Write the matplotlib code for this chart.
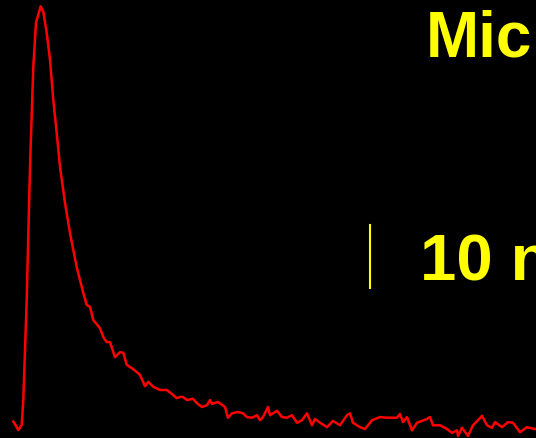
import matplotlib
matplotlib.use("Agg")
from matplotlib import pyplot as plt

# evoked current trace, time in ms, current in nA
time_ms = [1.33, 1.6, 1.83, 2.17, 2.33, 2.67, 3.0, 3.33, 3.6, 4.07, 4.33, 4.67,
           5.0, 5.33, 5.67, 6.0, 6.5, 7.0, 7.67, 8.33, 8.67, 9.0, 9.33, 10.0,
           10.33, 10.67, 11.0, 11.5, 12.0, 12.33, 12.67, 13.33, 14.0, 14.5,
           14.83, 15.33, 16.0, 16.67, 17.33, 17.67, 18.0,
           18.3, 18.7, 19.3, 19.7, 20.2, 20.7, 21.0, 21.2, 21.8, 22.5, 22.8,
           23.2, 23.8, 24.3, 24.7, 25.2, 25.7, 26.0, 26.3, 26.8, 27.0, 27.7,
           28.2, 28.7, 29.2, 29.7, 30.2, 30.7, 31.2, 31.5, 32.0, 32.7, 33.3,
           34.0, 34.7, 35.0, 35.3, 36.0, 36.5, 37.2, 38.0, 38.7, 39.7, 40.0,
           40.3, 40.7, 41.2, 41.7, 42.7, 43.0, 43.3, 44.0, 44.7, 45.2, 45.7,
           45.8, 46.2, 46.8, 47.3, 47.8, 48.2, 48.7, 49.2, 49.5, 50.2, 50.8,
           51.3, 52.0, 52.7, 53.5, 54.0]
current_na = [0.4, -0.3, -0.95, -0.16, 3.8, 19.7, 40.8, 56.7, 63.7, 66.3, 65.4, 62.1,
              57.8, 51.4, 46.2, 40.8, 35.1, 30.3, 24.9, 20.8, 18.9, 18.6, 16.5, 15.2,
              13.8, 13.0, 13.0, 10.6, 11.4, 11.3, 9.4, 8.7, 7.8, 6.0,
              6.7, 5.9, 5.4, 5.4, 4.6, 4.1, 4.3,
              4.3, 3.8, 4.0, 3.3, 2.7, 3.0, 3.8, 3.2, 3.5, 2.7, 1.0,
              1.7, 1.9, 1.7, 1.1, 1.0, 1.4, 0.6, 1.1, 2.7, 1.4, 2.1,
              1.1, 1.0, 1.4, 0.2, 0.6, 1.7, -0.2, 0.8, 0.2, -0.5, 0.5,
              -0.2, 1.4, 1.7, 0.2, -0.5, -0.8, 0.6, 1.1, 1.0, 1.0, 1.6,
              0.3, 1.1, -1.0, 0.2, 0.8, 1.1, -0.2, -0.2, -0.8, -1.4, -1.0,
              -1.9, -0.6, -1.9, -0.2, 0.6, 1.3, -0.2, -0.6, 0.3, -0.5, 0.3,
              0.2, -1.3, -0.5, -0.8, -0.8]

title_text = "Mic"
scale_label = "10 nA"
scale_na = 10
scale_t = 37.0
scale_bottom = 21.6

fig = plt.figure(figsize=(5.36, 4.38), dpi=100, facecolor="black")
ax = fig.add_axes([0, 0, 1, 1])
ax.set_facecolor("black")
ax.plot(time_ms, current_na, color="red", lw=1.8, solid_joinstyle="round")

# vertical scale bar
ax.plot([scale_t, scale_t], [scale_bottom, scale_bottom + scale_na],
        color="yellow", lw=1.5)

ax.set_xlim(0, 53.6)
ax.set_ylim(-2.22, 67.3)
ax.axis("off")

fig.text(0.794, 0.871, title_text, color="yellow", fontsize=46,
         fontweight="bold", family="Liberation Sans", va="baseline")
fig.text(0.784, 0.360, scale_label, color="yellow", fontsize=47,
         fontweight="bold", family="Liberation Sans", va="baseline")

fig.savefig("out.png", dpi=100, facecolor="black")
